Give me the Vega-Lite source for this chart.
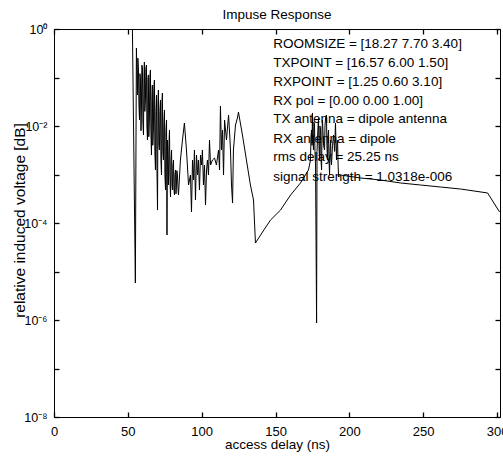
{
  "$schema": "https://vega.github.io/schema/vega-lite/v6.json",
  "width": 446,
  "height": 388,
  "autosize": {"type": "none"},
  "padding": {"left": 54, "top": 29, "right": 3, "bottom": 44},
  "background": "white",
  "title": {"text": "Impuse Response", "fontSize": 13.5, "font": "Liberation Sans", "fontWeight": "normal", "color": "black", "offset": 2, "anchor": "middle"},
  "config": {
    "view": {"stroke": "black", "strokeWidth": 1},
    "font": "Liberation Sans",
    "axis": {"grid": false, "domain": false, "ticks": true, "zindex": 2, "tickColor": "black", "tickOpacity": 1, "tickSize": 5, "offset": -5, "tickWidth": 1.3, "labelColor": "black", "titleColor": "black", "labelFont": "Liberation Sans", "titleFont": "Liberation Sans", "titleFontWeight": "normal"}
  },
  "datasets": {
    "ir": [
      {"t": 53.1, "v": 1},
      {"t": 55.1, "v": 5.79e-6},
      {"t": 55.8, "v": 0.406},
      {"t": 56.5, "v": 0.0436},
      {"t": 56.8, "v": 0.25},
      {"t": 57.2, "v": 0.143},
      {"t": 57.5, "v": 0.03},
      {"t": 57.9, "v": 0.0133},
      {"t": 58.2, "v": 0.12},
      {"t": 58.5, "v": 0.0977},
      {"t": 58.9, "v": 0.008},
      {"t": 59.2, "v": 0.0214},
      {"t": 59.5, "v": 0.18},
      {"t": 59.9, "v": 0.157},
      {"t": 60.2, "v": 0.012},
      {"t": 60.6, "v": 0.00652},
      {"t": 60.9, "v": 0.1},
      {"t": 61.2, "v": 0.209},
      {"t": 61.5, "v": 0.02},
      {"t": 61.9, "v": 0.0344},
      {"t": 62.2, "v": 0.15},
      {"t": 62.6, "v": 0.181},
      {"t": 62.9, "v": 0.01},
      {"t": 63.3, "v": 0.00514},
      {"t": 63.6, "v": 0.09},
      {"t": 63.9, "v": 0.113},
      {"t": 64.2, "v": 0.006},
      {"t": 64.6, "v": 0.0133},
      {"t": 64.9, "v": 0.1},
      {"t": 65.3, "v": 0.143},
      {"t": 65.6, "v": 0.008},
      {"t": 66.0, "v": 0.00252},
      {"t": 66.3, "v": 0.04},
      {"t": 66.6, "v": 0.07},
      {"t": 66.9, "v": 0.004},
      {"t": 67.3, "v": 0.00827},
      {"t": 67.6, "v": 0.06},
      {"t": 68.0, "v": 0.0888},
      {"t": 68.3, "v": 0.003},
      {"t": 68.7, "v": 0.00124},
      {"t": 69.0, "v": 0.02},
      {"t": 69.4, "v": 0.0436},
      {"t": 69.7, "v": 0.0015},
      {"t": 70.1, "v": 1.85e-4},
      {"t": 70.4, "v": 0.03},
      {"t": 70.7, "v": 0.0552},
      {"t": 71.0, "v": 0.004},
      {"t": 71.4, "v": 0.0032},
      {"t": 71.7, "v": 0.02},
      {"t": 72.1, "v": 0.0344},
      {"t": 72.4, "v": 0.002},
      {"t": 72.8, "v": 9.77e-4},
      {"t": 73.1, "v": 0.03},
      {"t": 73.4, "v": 0.0479},
      {"t": 73.7, "v": 0.003},
      {"t": 74.1, "v": 0.00199},
      {"t": 74.4, "v": 0.012},
      {"t": 74.8, "v": 0.0214},
      {"t": 75.1, "v": 0.001},
      {"t": 75.5, "v": 4.79e-4},
      {"t": 75.8, "v": 0.008},
      {"t": 76.2, "v": 0.0133},
      {"t": 76.5, "v": 5.66e-5},
      {"t": 76.8, "v": 0.00514},
      {"t": 77.1, "v": 0.002},
      {"t": 77.5, "v": 6.07e-4},
      {"t": 77.8, "v": 0.004},
      {"t": 78.2, "v": 0.00827},
      {"t": 78.5, "v": 9e-4},
      {"t": 78.9, "v": 3.44e-4},
      {"t": 79.2, "v": 0.002},
      {"t": 79.6, "v": 0.0032},
      {"t": 79.9, "v": 6e-4},
      {"t": 80.2, "v": 4.79e-4},
      {"t": 80.5, "v": 0.0015},
      {"t": 80.9, "v": 0.00199},
      {"t": 81.2, "v": 5e-4},
      {"t": 81.6, "v": 3.78e-4},
      {"t": 81.9, "v": 0.001},
      {"t": 82.3, "v": 0.00124},
      {"t": 82.6, "v": 4e-4},
      {"t": 82.9, "v": 6.07e-4},
      {"t": 83.2, "v": 0.0012},
      {"t": 83.6, "v": 9.77e-4},
      {"t": 84.0, "v": 5e-4},
      {"t": 84.3, "v": 3.78e-4},
      {"t": 85.6, "v": 0.00199},
      {"t": 87.0, "v": 0.00514},
      {"t": 88.3, "v": 0.01153},
      {"t": 89.7, "v": 0.0032},
      {"t": 91.1, "v": 6.07e-4},
      {"t": 92.4, "v": 9.77e-4},
      {"t": 93.1, "v": 1.69e-4},
      {"t": 93.8, "v": 0.00199},
      {"t": 94.5, "v": 7.7e-4},
      {"t": 95.1, "v": 0.0032},
      {"t": 95.8, "v": 2.98e-4},
      {"t": 96.5, "v": 0.00252},
      {"t": 97.2, "v": 9.77e-4},
      {"t": 97.8, "v": 0.00199},
      {"t": 98.5, "v": 4.79e-4},
      {"t": 99.2, "v": 0.00252},
      {"t": 99.9, "v": 0.00157},
      {"t": 100.5, "v": 0.0032},
      {"t": 101.2, "v": 6.07e-4},
      {"t": 101.9, "v": 0.00157},
      {"t": 102.6, "v": 2.35e-4},
      {"t": 103.3, "v": 0.00124},
      {"t": 103.9, "v": 0.00199},
      {"t": 104.6, "v": 9.77e-4},
      {"t": 105.3, "v": 0.00514},
      {"t": 106.0, "v": 0.00157},
      {"t": 107.3, "v": 0.00199},
      {"t": 108.7, "v": 0.00219},
      {"t": 110.0, "v": 0.00157},
      {"t": 111.4, "v": 0.0032},
      {"t": 112.1, "v": 0.00124},
      {"t": 112.7, "v": 0.0258},
      {"t": 113.4, "v": 0.0032},
      {"t": 114.1, "v": 0.00827},
      {"t": 114.8, "v": 9.77e-4},
      {"t": 115.5, "v": 0.0133},
      {"t": 116.8, "v": 0.00514},
      {"t": 118.2, "v": 0.01686},
      {"t": 118.8, "v": 0.00827},
      {"t": 119.5, "v": 0.0032},
      {"t": 120.2, "v": 6.07e-4},
      {"t": 120.9, "v": 2.58e-4},
      {"t": 121.5, "v": 0.0032},
      {"t": 122.9, "v": 0.0105},
      {"t": 124.2, "v": 0.0146},
      {"t": 124.9, "v": 0.0194},
      {"t": 127.6, "v": 0.00652},
      {"t": 130.3, "v": 0.00199},
      {"t": 133.0, "v": 6.07e-4},
      {"t": 135.1, "v": 2.98e-4},
      {"t": 136.4, "v": 3.87e-5},
      {"t": 141.2, "v": 6.52e-5},
      {"t": 146.6, "v": 1.15e-4},
      {"t": 153.4, "v": 1.85e-4},
      {"t": 160.2, "v": 3.78e-4},
      {"t": 166.9, "v": 6.68e-4},
      {"t": 172.3, "v": 0.00124},
      {"t": 173.7, "v": 0.00199},
      {"t": 174.0, "v": 0.006},
      {"t": 174.4, "v": 0.00827},
      {"t": 174.7, "v": 0.004},
      {"t": 175.0, "v": 0.0185},
      {"t": 175.3, "v": 0.006},
      {"t": 175.7, "v": 0.0032},
      {"t": 176.0, "v": 0.012},
      {"t": 176.4, "v": 0.0105},
      {"t": 176.7, "v": 0.003},
      {"t": 177.1, "v": 0.00157},
      {"t": 177.8, "v": 8.67e-7},
      {"t": 178.1, "v": 0.003},
      {"t": 178.4, "v": 0.00514},
      {"t": 178.8, "v": 0.01},
      {"t": 179.1, "v": 0.0146},
      {"t": 179.4, "v": 0.004},
      {"t": 179.8, "v": 0.00199},
      {"t": 180.1, "v": 0.01},
      {"t": 180.5, "v": 0.00827},
      {"t": 180.8, "v": 0.002},
      {"t": 181.2, "v": 0.00124},
      {"t": 181.5, "v": 0.008},
      {"t": 181.8, "v": 0.0133},
      {"t": 182.5, "v": 0.004},
      {"t": 183.2, "v": 0.0032},
      {"t": 183.5, "v": 0.01},
      {"t": 183.9, "v": 0.0146},
      {"t": 184.5, "v": 0.01686},
      {"t": 184.8, "v": 0.004},
      {"t": 185.2, "v": 0.00199},
      {"t": 185.5, "v": 0.006},
      {"t": 185.9, "v": 0.00827},
      {"t": 186.2, "v": 0.002},
      {"t": 186.6, "v": 9.77e-4},
      {"t": 186.9, "v": 0.003},
      {"t": 187.3, "v": 0.00514},
      {"t": 187.6, "v": 0.002},
      {"t": 187.9, "v": 0.00157},
      {"t": 188.6, "v": 0.004},
      {"t": 189.3, "v": 0.00652},
      {"t": 190.0, "v": 0.003},
      {"t": 190.6, "v": 0.01153},
      {"t": 191.0, "v": 0.004},
      {"t": 191.3, "v": 0.00199},
      {"t": 191.6, "v": 0.004},
      {"t": 192.0, "v": 0.00514},
      {"t": 192.4, "v": 0.0015},
      {"t": 192.7, "v": 8.88e-4},
      {"t": 194.0, "v": 9.77e-4},
      {"t": 207.6, "v": 8.47e-4},
      {"t": 221.1, "v": 7.7e-4},
      {"t": 234.7, "v": 6.68e-4},
      {"t": 248.2, "v": 6.07e-4},
      {"t": 261.8, "v": 5.52e-4},
      {"t": 275.3, "v": 5.02e-4},
      {"t": 293.6, "v": 4.16e-4},
      {"t": 301.7, "v": 1.69e-4}
    ],
    "notes": [
      {"t": 148.4, "v": 0.491, "label": "ROOMSIZE = [18.27 7.70 3.40]"},
      {"t": 148.4, "v": 0.199, "label": "TXPOINT = [16.57 6.00 1.50]"},
      {"t": 148.4, "v": 0.0807, "label": "RXPOINT = [1.25 0.60 3.10]"},
      {"t": 148.4, "v": 0.0328, "label": "RX pol = [0.00 0.00 1.00]"},
      {"t": 148.4, "v": 0.0139, "label": "TX antenna = dipole antenna"},
      {"t": 148.4, "v": 0.0054, "label": "RX antenna = dipole"},
      {"t": 148.4, "v": 0.0023, "label": "rms delay = 25.25 ns"},
      {"t": 148.4, "v": 0.000888, "label": "signal strength = 1.0318e-006"}
    ]
  },
  "resolve": {"axis": {"x": "independent", "y": "independent"}},
  "layer": [
    {
      "data": {"name": "ir"},
      "mark": {"type": "line", "color": "black", "strokeWidth": 1, "clip": true},
      "encoding": {
        "x": {"field": "t", "type": "quantitative",
          "scale": {"domain": [0, 302], "nice": false, "zero": false},
          "axis": {"orient": "bottom", "values": [0, 50, 100, 150, 200, 250, 300], "title": "access delay (ns)", "labelFontSize": 13, "labelPadding": 8, "titleFontSize": 13.5, "titleY": 36, "titleBaseline": "alphabetic", "labelFlush": false}},
        "y": {"field": "v", "type": "quantitative",
          "scale": {"type": "log", "domain": [1e-8, 1], "nice": false},
          "axis": {"orient": "left", "values": [1e-8, 1e-7, 1e-6, 1e-5, 1e-4, 1e-3, 1e-2, 1e-1, 1],
            "labelExpr": "round(log(datum.value)/LN10) == 0 ? '10⁰' : round(log(datum.value)/LN10) == -2 ? '10⁻²' : round(log(datum.value)/LN10) == -4 ? '10⁻⁴' : round(log(datum.value)/LN10) == -6 ? '10⁻⁶' : round(log(datum.value)/LN10) == -8 ? '10⁻⁸' : ''",
            "labelFontSize": 12.5, "labelPadding": 7, "labelFlush": false,
            "title": "relative induced voltage [dB]", "titleFontSize": 15.5, "titleX": -35, "titleY": 191, "titleAngle": -90, "titleAlign": "center", "titleBaseline": "alphabetic"}}
      }
    },
    {
      "data": {"name": "notes"},
      "mark": {"type": "text", "align": "left", "baseline": "middle", "fontSize": 13.5, "font": "Liberation Sans", "color": "black"},
      "encoding": {
        "x": {"field": "t", "type": "quantitative", "axis": {"orient": "top", "values": [0, 50, 100, 150, 200, 250, 300], "labels": false, "title": null}},
        "y": {"field": "v", "type": "quantitative", "axis": {"orient": "right", "values": [1e-8, 1e-7, 1e-6, 1e-5, 1e-4, 1e-3, 1e-2, 1e-1, 1], "labels": false, "title": null}},
        "text": {"field": "label"}
      }
    }
  ]
}
